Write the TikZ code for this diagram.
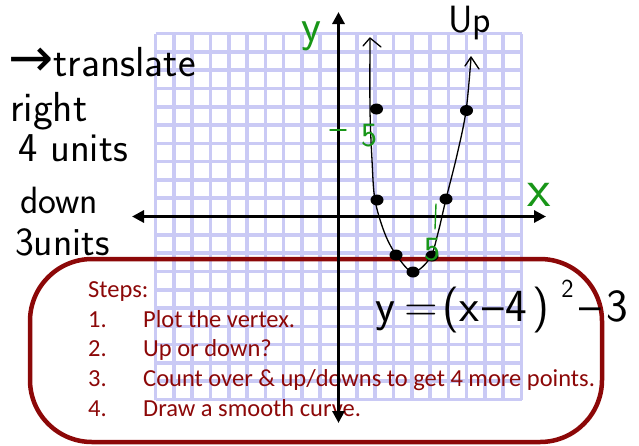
\documentclass[tikz,border=0pt]{standalone}
\usepackage{fontspec}
\setmainfont{Carlito}
\newfontfamily\arrowfont{DejaVu Sans}
\usetikzlibrary{arrows.meta}
\definecolor{gridlav}{RGB}{202,202,245}
\definecolor{boxred}{RGB}{140,8,8}
\definecolor{pengreen}{RGB}{24,150,24}
\newcommand{\handsize}[1]{\sffamily\fontsize{#1}{#1}\selectfont}
\begin{document}
\begin{tikzpicture}[x=1pt,y=-1pt,line width=0.4pt,
  gridline/.style={draw=gridlav,line width=3.6pt},
  redbox/.style={draw=boxred,line width=4.5pt,rounded corners=62pt},
  steptext/.style={text=boxred,font=\fontsize{24.5}{24.5}\selectfont,anchor=base west,inner sep=0pt},
  hand/.style={font=\handsize{40},anchor=base west,inner sep=0pt},
  greenhand/.style={hand,text=pengreen},
  greenpen/.style={draw=pengreen,line width=1.4pt,line cap=round},
  pen/.style={draw=black,line width=1.3pt,line cap=round,line join=round},
  axis/.style={draw=black,line width=3.6pt,{Triangle[length=12pt,width=12pt]}-{Triangle[length=12pt,width=12pt]}}]
\useasboundingbox (0,0) rectangle (639,445);
% grid paper
\foreach \k in {0,...,20} {
  \draw[gridline] ({155.5+18.3*\k},33.5) -- ({155.5+18.3*\k},399.5);
  \draw[gridline] (155.5,{33.5+18.3*\k}) -- (521.5,{33.5+18.3*\k});
}
% box with the steps
\draw[redbox] (30,259) rectangle (602,442);
\node[steptext] (steps) at (88,297) {Steps:};
\node[steptext] (num1) at (88,327) {1.};
\node[steptext] (item1) at (143,327) {Plot the vertex.};
\node[steptext] (num2) at (88,356) {2.};
\node[steptext] (item2) at (143,356) {Up or down?};
\node[steptext] (num3) at (88,386) {3.};
\node[steptext] (item3) at (143,386) {Count over \& up/downs to get 4 more points.};
\node[steptext] (num4) at (88,416) {4.};
\node[steptext] (item4) at (143,416) {Draw a smooth curve.};
% axes
\draw[axis] (338.5,423) -- (338.5,12);
\draw[axis] (132,216.5) -- (546,216.5);
% parabola
\draw[pen] plot[smooth,tension=0.55] coordinates {(370,38) (370,110) (372,160) (375,200) (385,234) (397,256) (413,272) (430,258) (438,233) (446,199) (457,155) (466,111) (471,58)};
\draw[pen] (363,46) -- (370,38) -- (381,47);
\draw[pen] (465,66) -- (471,57) -- (479,69);
\foreach \p in {(376.5,109),(377,200),(396,255),(413,272),(432,256),(446,199),(466.5,110.5)}
  \fill \p ellipse (6.5pt and 5.5pt);
% green marks
\node[greenhand,font=\handsize{46}] (ylab) at (301,41) {y};
\node[greenhand,font=\handsize{54}] (xlab) at (527,206) {x};
\draw[greenpen] (330,130) -- (346,130);
\node[greenhand,font=\handsize{34}] (yfive) at (361,146) {5};
\draw[greenpen] (436,204) -- (435,229);
\node[greenhand,font=\handsize{34}] (xfive) at (424,260) {5};
% handwritten notes
\node[hand,font=\handsize{42}] (translate) at (8,76) {{\arrowfont\fontsize{54}{54}\selectfont →}translate};
\node[hand,font=\handsize{42}] (right) at (10,121) {right};
\node[hand,font=\handsize{41}] (fourunits) at (18,161) {4 units};
\node[hand,font=\handsize{38}] (down) at (20,213) {down};
\node[hand,font=\handsize{40}] (threeunits) at (15,255) {3units};
\node[hand,font=\handsize{38}] (up) at (448,32) {Up};
\node[hand,font=\handsize{46}] (equation) at (375,321) {y\hspace{9pt}=\hspace{5pt}(x\hspace{3pt}–\hspace{1pt}4\hspace{6pt})\hspace{12pt}\raisebox{0.52em}{\handsize{26}2}\hspace{6pt}–\hspace{5pt}3};
\end{tikzpicture}
\end{document}
